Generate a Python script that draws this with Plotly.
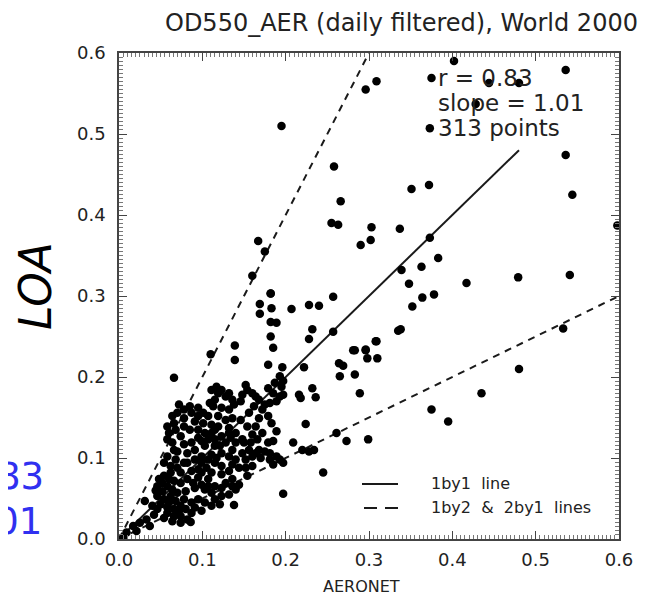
import plotly.graph_objects as go

# ---- data ----
aeronet = [
    # outliers / sparse points
    0.296, 0.309, 0.402, 0.375, 0.444, 0.480, 0.428, 0.536, 0.373, 0.536, 0.544, 0.598,
    0.266, 0.351, 0.372, 0.303, 0.337, 0.290, 0.302, 0.263, 0.373, 0.339, 0.363, 0.383,
    0.348, 0.352, 0.364, 0.378, 0.417, 0.479, 0.541, 0.335, 0.338, 0.309, 0.281, 0.296,
    0.533, 0.435, 0.375, 0.395, 0.480, 0.195, 0.258, 0.255, 0.167, 0.175, 0.160, 0.182,
    0.182, 0.169, 0.169, 0.183, 0.207, 0.228, 0.240, 0.257, 0.182, 0.189, 0.232, 0.228,
    0.257, 0.182, 0.185, 0.139, 0.139, 0.110, 0.179, 0.196, 0.222, 0.066, 0.308, 0.283,
    0.296, 0.298, 0.310, 0.264, 0.269, 0.265, 0.283, 0.289, 0.216, 0.218, 0.232, 0.236,
    0.224, 0.261, 0.273, 0.299, 0.209, 0.220, 0.228, 0.234, 0.245, 0.197, 0.138, 0.086,
    0.031, 0.044,
    # dense cluster
    0.111, 0.119, 0.128, 0.136, 0.115, 0.109, 0.113, 0.152, 0.154, 0.160, 0.164, 0.148,
    0.146, 0.168, 0.175, 0.181, 0.189, 0.193, 0.195, 0.197, 0.193, 0.187, 0.197, 0.172,
    0.179, 0.183, 0.189, 0.185, 0.179, 0.160, 0.154, 0.146, 0.136, 0.128, 0.119, 0.101,
    0.095, 0.085, 0.072, 0.070, 0.078, 0.066, 0.060, 0.058, 0.064, 0.074, 0.085, 0.091,
    0.101, 0.111, 0.119, 0.132, 0.140, 0.148, 0.150, 0.156, 0.160, 0.164, 0.168, 0.175,
    0.181, 0.189, 0.193, 0.181, 0.103, 0.095, 0.107, 0.115, 0.123, 0.128, 0.115, 0.103,
    0.091, 0.082, 0.070, 0.068, 0.078, 0.091, 0.099, 0.111, 0.123, 0.132, 0.140, 0.144,
    0.132, 0.123, 0.115, 0.105, 0.095, 0.087, 0.074, 0.062, 0.054, 0.052, 0.058, 0.066,
    0.074, 0.082, 0.095, 0.107, 0.115, 0.128, 0.136, 0.144, 0.140, 0.132, 0.123, 0.111,
    0.103, 0.091, 0.080, 0.070, 0.062, 0.054, 0.050, 0.058, 0.066, 0.074, 0.087, 0.095,
    0.103, 0.111, 0.099, 0.087, 0.074, 0.066, 0.058, 0.082, 0.046, 0.042, 0.033, 0.017,
    0.025, 0.009, 0.005, 0.021, 0.037,
    0.117, 0.123, 0.132, 0.138, 0.123, 0.132, 0.107, 0.095, 0.087, 0.078, 0.064, 0.058,
    0.068, 0.078, 0.095, 0.111, 0.134, 0.140, 0.136, 0.148, 0.152, 0.158, 0.166, 0.172,
    0.164, 0.168, 0.156, 0.162, 0.185, 0.179, 0.087, 0.078, 0.066, 0.058, 0.054, 0.062,
    0.070, 0.082, 0.099, 0.107, 0.117, 0.136, 0.152, 0.099, 0.111, 0.123, 0.089, 0.099,
    0.107, 0.123, 0.064, 0.052, 0.046, 0.078, 0.068, 0.060, 0.091, 0.080, 0.072, 0.054,
    0.064, 0.074, 0.040, 0.115, 0.121, 0.046, 0.048, 0.060, 0.132, 0.115, 0.099, 0.121,
    0.170, 0.197, 0.185, 0.160, 0.154, 0.136,
]
loa = [
    0.555, 0.565, 0.590, 0.569, 0.563, 0.563, 0.537, 0.579, 0.507, 0.474, 0.425, 0.387,
    0.417, 0.432, 0.437, 0.385, 0.383, 0.363, 0.369, 0.388, 0.372, 0.332, 0.336, 0.347,
    0.315, 0.287, 0.298, 0.302, 0.316, 0.323, 0.326, 0.257, 0.259, 0.244, 0.233, 0.233,
    0.260, 0.180, 0.160, 0.145, 0.210, 0.510, 0.460, 0.390, 0.368, 0.355, 0.325, 0.303,
    0.303, 0.290, 0.278, 0.285, 0.284, 0.289, 0.288, 0.299, 0.268, 0.267, 0.259, 0.247,
    0.256, 0.250, 0.236, 0.239, 0.221, 0.228, 0.215, 0.212, 0.212, 0.199, 0.244, 0.233,
    0.234, 0.223, 0.223, 0.217, 0.214, 0.201, 0.203, 0.180, 0.178, 0.174, 0.186, 0.175,
    0.142, 0.131, 0.121, 0.123, 0.119, 0.110, 0.108, 0.110, 0.082, 0.056, 0.042, 0.021,
    0.047, 0.060,
    0.184, 0.180, 0.176, 0.172, 0.172, 0.168, 0.164, 0.190, 0.184, 0.180, 0.176, 0.178,
    0.170, 0.172, 0.166, 0.168, 0.170, 0.176, 0.188, 0.195, 0.201, 0.193, 0.178, 0.160,
    0.152, 0.143, 0.133, 0.121, 0.119, 0.129, 0.139, 0.147, 0.149, 0.147, 0.152, 0.156,
    0.162, 0.164, 0.166, 0.156, 0.149, 0.143, 0.131, 0.123, 0.119, 0.127, 0.135, 0.145,
    0.143, 0.141, 0.139, 0.137, 0.131, 0.123, 0.119, 0.110, 0.102, 0.106, 0.110, 0.108,
    0.106, 0.102, 0.098, 0.098, 0.131, 0.125, 0.123, 0.123, 0.127, 0.119, 0.115, 0.115,
    0.110, 0.106, 0.108, 0.098, 0.094, 0.098, 0.102, 0.104, 0.106, 0.102, 0.098, 0.088,
    0.084, 0.090, 0.094, 0.088, 0.086, 0.084, 0.082, 0.082, 0.078, 0.069, 0.065, 0.072,
    0.069, 0.074, 0.076, 0.074, 0.065, 0.069, 0.074, 0.067, 0.061, 0.055, 0.053, 0.057,
    0.061, 0.063, 0.059, 0.057, 0.053, 0.049, 0.043, 0.039, 0.037, 0.041, 0.045, 0.049,
    0.045, 0.041, 0.035, 0.032, 0.028, 0.028, 0.032, 0.024, 0.037, 0.030, 0.024, 0.016,
    0.020, 0.008, 0.002, 0.010, 0.016,
    0.188, 0.184, 0.180, 0.166, 0.162, 0.160, 0.152, 0.152, 0.156, 0.160, 0.152, 0.139,
    0.135, 0.139, 0.135, 0.131, 0.125, 0.119, 0.110, 0.106, 0.098, 0.119, 0.123, 0.131,
    0.139, 0.149, 0.156, 0.164, 0.180, 0.186, 0.119, 0.117, 0.110, 0.102, 0.094, 0.090,
    0.088, 0.094, 0.094, 0.098, 0.100, 0.092, 0.088, 0.082, 0.082, 0.080, 0.069, 0.067,
    0.065, 0.063, 0.061, 0.059, 0.053, 0.049, 0.047, 0.045, 0.039, 0.037, 0.035, 0.026,
    0.022, 0.020, 0.041, 0.049, 0.043, 0.065, 0.074, 0.074, 0.131, 0.135, 0.121, 0.115,
    0.100, 0.094, 0.092, 0.090, 0.078, 0.065,
]

one_x = [0.0, 0.48]
one_y = [0.0, 0.48]
half_x = [0.0, 0.6]
half_y = [0.0, 0.3]
two_x = [0.0, 0.3]
two_y = [0.0, 0.6]

title = "OD550_AER (daily filtered), World 2000"
stats = ["r = 0.83", "slope = 1.01", "313 points"]
tick_vals = [0.0, 0.1, 0.2, 0.3, 0.4, 0.5, 0.6]
tick_text = ["0.0", "0.1", "0.2", "0.3", "0.4", "0.5", "0.6"]

W, H = 656, 602
L, R, T, B = 111, 611, 45, 531


def px(x):
    return (x - L) / (R - L)


def py(y):
    return (B - y) / (B - T)


FONT = "DejaVu Sans"
INK = "#1a1a1a"

fig = go.Figure()
fig.add_trace(go.Scatter(x=two_x, y=two_y, mode="lines",
                         line=dict(color=INK, width=2, dash="7px,6px"), hoverinfo="skip"))
fig.add_trace(go.Scatter(x=half_x, y=half_y, mode="lines",
                         line=dict(color=INK, width=2, dash="7px,6px"), hoverinfo="skip"))
fig.add_trace(go.Scatter(x=one_x, y=one_y, mode="lines",
                         line=dict(color=INK, width=2), hoverinfo="skip"))
fig.add_trace(go.Scatter(x=aeronet, y=loa, mode="markers",
                         marker=dict(color="black", size=8.5, line=dict(width=0))))

axis_common = dict(
    range=[0, 0.6], tickvals=tick_vals, ticktext=tick_text,
    ticks="inside", ticklen=8, tickwidth=1, tickcolor="#444",
    showline=True, linecolor="#444", linewidth=1.5, mirror="allticks",
    showgrid=False, zeroline=False,
    tickfont=dict(family=FONT, size=18, color="#222"),
    minor=dict(dtick=0.005, ticks="inside", ticklen=4, tickcolor="#777", tickwidth=1, showgrid=False),
    fixedrange=True,
)
fig.update_xaxes(**axis_common, ticklabelstandoff=4)
fig.update_yaxes(**axis_common, ticklabelstandoff=8)

ann = []
ann.append(dict(text=title, x=px(393), y=py(15), xref="paper", yref="paper",
                showarrow=False, font=dict(family=FONT, size=24, color="#222"),
                xanchor="center", yanchor="middle"))
for i, s in enumerate(stats):
    ann.append(dict(text=s, x=px(429), y=py([70, 95, 120][i]), xref="paper", yref="paper",
                    showarrow=False, font=dict(family=FONT, size=23, color="#222"),
                    xanchor="left", yanchor="middle", borderpad=0))
ann.append(dict(text="AERONET", x=px(353), y=py(578), xref="paper", yref="paper",
                showarrow=False, font=dict(family=FONT, size=16, color="#222"),
                xanchor="center", yanchor="middle"))
ann.append(dict(text="<i>LOA</i>", x=px(27), y=py(278), xref="paper", yref="paper", textangle=-90,
                showarrow=False, font=dict(family="DejaVu Sans", size=44, color="black"),
                xanchor="center", yanchor="middle", borderpad=0))
ann.append(dict(text="r = 0.83", x=px(37), y=py(468), xref="paper", yref="paper",
                showarrow=False, font=dict(family="DejaVu Sans", size=37, color="#3030f0"),
                xanchor="right", yanchor="middle", borderpad=0))
ann.append(dict(text="slope = 1.01", x=px(35), y=py(513), xref="paper", yref="paper",
                showarrow=False, font=dict(family="DejaVu Sans", size=37, color="#3030f0"),
                xanchor="right", yanchor="middle", borderpad=0))
ann.append(dict(text="1by1  line", x=px(421), y=py(475), xref="paper", yref="paper",
                showarrow=False, font=dict(family=FONT, size=16, color="#222"),
                xanchor="left", yanchor="middle"))
ann.append(dict(text="1by2  &  2by1  lines", x=px(421), y=py(499), xref="paper", yref="paper",
                showarrow=False, font=dict(family=FONT, size=16, color="#222"),
                xanchor="left", yanchor="middle"))

shapes = [
    dict(type="line", xref="paper", yref="paper", x0=px(354), x1=px(390), y0=py(476), y1=py(476),
         line=dict(color=INK, width=2)),
    dict(type="line", xref="paper", yref="paper", x0=px(356), x1=px(390), y0=py(500), y1=py(500),
         line=dict(color=INK, width=2, dash="13px,8px")),
]

fig.update_layout(
    width=W, height=H, margin=dict(l=L, r=W - R, t=T, b=H - B),
    paper_bgcolor="white", plot_bgcolor="white", showlegend=False,
    annotations=ann, shapes=shapes,
)
fig.write_html("out.html")
